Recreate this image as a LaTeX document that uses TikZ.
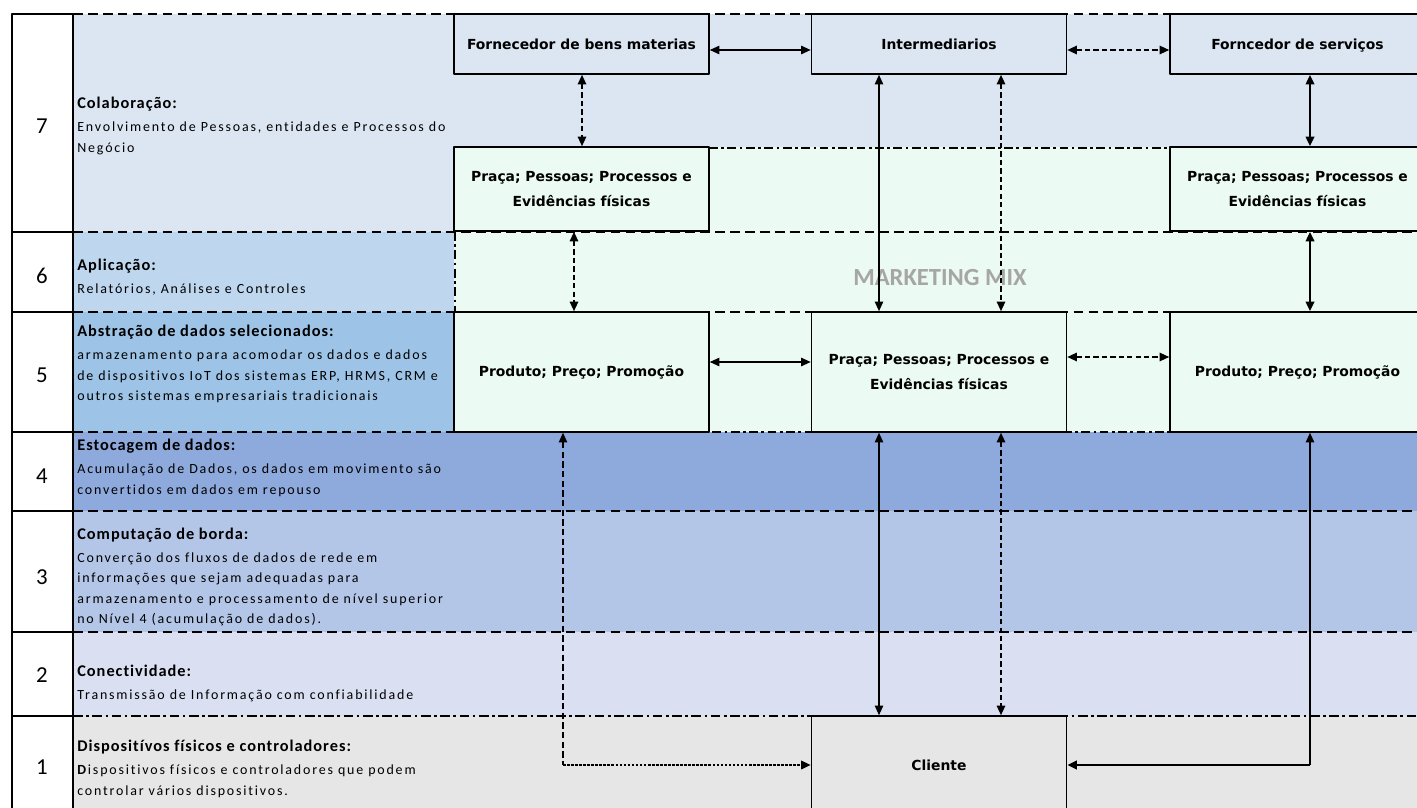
\documentclass[tikz,border=0pt]{standalone}
\usepackage{fontspec}
\setmainfont{Carlito}
\newfontfamily\headfont[LetterSpace=6,Ligatures=NoCommon]{Carlito}
\newfontfamily\bodyfont[LetterSpace=13,Ligatures=NoCommon]{Carlito}
\newfontfamily\boxfont{DejaVu Sans}
\usetikzlibrary{arrows.meta}
\definecolor{lvSeven}{RGB}{220,230,242}
\definecolor{lvSix}{RGB}{190,215,238}
\definecolor{lvFive}{RGB}{157,195,230}
\definecolor{lvFour}{RGB}{142,169,219}
\definecolor{lvThree}{RGB}{180,198,231}
\definecolor{lvTwo}{RGB}{218,224,242}
\definecolor{lvOne}{RGB}{230,230,230}
\definecolor{mixmint}{RGB}{235,250,243}
\definecolor{mixgray}{RGB}{166,166,166}
\begin{document}
\begin{tikzpicture}[x=0.02cm, y=-0.02cm, line join=round, >={Triangle[length=5.5pt,width=4.8pt]},
		box/.style={draw, line width=0.9pt, minimum width=5.1cm, inner sep=2pt, align=center,
			font=\boxfont\fontsize{7.9}{14}\selectfont\bfseries},
		rowline/.style={line width=1.1pt, dash pattern=on 5.5pt off 3pt},
		rowdot/.style={line width=1.1pt, dash pattern=on 5.5pt off 2pt on 1.5pt off 2pt},
		mixedge/.style={line width=0.6pt, dash pattern=on 5pt off 2pt on 1.5pt off 2pt},
		link/.style={line width=0.8pt},
		boldlink/.style={line width=1.3pt},
		dashlink/.style={line width=1pt, dash pattern=on 3pt off 1.8pt},
		layertext/.style={anchor=west, inner sep=0pt, align=left,
			font=\bodyfont\fontsize{7.95}{11.6}\selectfont}]
	\clip (0,0) rectangle (1417,808);
	% layer bands
	\foreach \ya/\yb/\c in {14/232/lvSeven, 232/312/lvSix, 312/432/lvFive, 432/511/lvFour,
		511/632/lvThree, 632/716/lvTwo, 716/808/lvOne}
	{
		\fill[\c] (73,\ya) rectangle (1417,\yb);
	}
	% marketing mix area
	\fill[mixmint] (454,147) rectangle (1417,432);
	\node[text=mixgray, font=\fontsize{14}{14}\selectfont\bfseries] (mix) at (940,278) {MARKETING MIX};
	% layer borders
	\draw[line width=0.6pt, dash pattern=on 5.5pt off 3pt] (73,14) -- (1417,14);
	\foreach \y in {232,312,511,632}
	{
		\draw[rowline] (73,\y) -- (1417,\y);
	}
	\draw[rowline] (73,432) -- (454,432);
	\draw[mixedge] (454,432) -- (1417,432);
	\draw[rowdot] (73,716) -- (1417,716);
	\draw[mixedge] (709,148) -- (1170,148);
	\draw[mixedge] (455,232) -- (455,312);
	% number column
	\draw[line width=0.6pt] (12,808) -- (12,14) -- (73,14);
	\foreach \y in {232,312,432,511,632,716}
	{
		\draw[line width=0.6pt] (12,\y) -- (73,\y);
	}
	\draw[line width=1.5pt] (73,14) -- (73,808);
	% boxes
	\node[box, fill=lvSeven, minimum height=1.2cm, text depth=-3pt] (forn) at (581.5,44) {Fornecedor de bens materias};
	\node[box, fill=lvSeven, minimum height=1.2cm, text depth=-3pt] (inter) at (939,44) {Intermediarios};
	\node[box, fill=lvSeven, minimum height=1.2cm, text depth=-3pt] (fserv) at (1297.5,44) {Forncedor de serviços};
	\node[box, fill=mixmint, minimum height=1.68cm] (pracaL) at (581.5,189) {Praça; Pessoas; Processos e\\Evidências físicas};
	\node[box, fill=mixmint, minimum height=1.68cm] (pracaR) at (1297.5,189) {Praça; Pessoas; Processos e\\Evidências físicas};
	\node[box, fill=mixmint, minimum height=2.4cm] (prodL) at (581.5,372) {Produto; Preço; Promoção};
	\node[box, fill=mixmint, minimum height=2.4cm] (pracaM) at (939,372) {Praça; Pessoas; Processos e\\Evidências físicas};
	\node[box, fill=mixmint, minimum height=2.4cm] (prodR) at (1297.5,372) {Produto; Preço; Promoção};
	\node[box, fill=lvOne, minimum height=1.96cm] (cliente) at (939,765) {Cliente};
	% columns and rows of the links
	\coordinate (cA) at (582,0);
	\coordinate (cB) at (574,0);
	\coordinate (cC) at (563,0);
	\coordinate (cD) at (879,0);
	\coordinate (cE) at (1001,0);
	\coordinate (cF) at (1310,0);
	\coordinate (rA) at (0,50);
	\coordinate (rB) at (0,362);
	\coordinate (rC) at (0,357);
	% links
	\draw[<->, link] (forn.east |- rA) -- (inter.west |- rA);
	\draw[<->, dashlink] (inter.east |- rA) -- (fserv.west |- rA);
	\draw[<->, dashlink] (forn.south -| cA) -- (pracaL.north -| cA);
	\draw[<->, boldlink] (fserv.south -| cF) -- (pracaR.north -| cF);
	\draw[<->, dashlink] (pracaL.south -| cB) -- (prodL.north -| cB);
	\draw[<->, boldlink] (pracaR.south -| cF) -- (prodR.north -| cF);
	\draw[<->, link] (inter.south -| cD) -- (pracaM.north -| cD);
	\draw[<->, dashlink] (inter.south -| cE) -- (pracaM.north -| cE);
	\draw[<->, link] (prodL.east |- rB) -- (pracaM.west |- rB);
	\draw[<->, dashlink] (pracaM.east |- rC) -- (prodR.west |- rC);
	\draw[<->, link] (pracaM.south -| cD) -- (cliente.north -| cD);
	\draw[<->, dashlink] (pracaM.south -| cE) -- (cliente.north -| cE);
	\coordinate (kL) at (cC |- cliente.west);
	\coordinate (kR) at (cF |- cliente.east);
	\draw[<-, line width=0.7pt, dash pattern=on 3.5pt off 2pt] (prodL.south -| cC) -- (kL);
	\draw[->, line width=1.2pt, dash pattern=on 1.5pt off 0.8pt] (kL) -- (cliente.west);
	\draw[<-, link] (prodR.south -| cF) -- (kR);
	\draw[->, line width=1.6pt] (kR) -- (cliente.east);
	% layer labels
	\foreach \n/\ny/\ty/\h/\t in {
		7/126/126/Colaboração:/{Envolvimento de Pessoas, entidades e Processos do\\Negócio},
		6/276/277/Aplicação:/{Relatórios, Análises e Controles},
		5/375/364/Abstração de dados selecionados:/{armazenamento para acomodar os dados e dados\\de dispositivos IoT dos sistemas ERP, HRMS, CRM e\\outros sistemas empresariais tradicionais},
		4/476/468/Estocagem de dados:/{Acumulação de Dados, os dados em movimento são\\convertidos em dados em repouso},
		3/577/577/Computação de borda:/{Converção dos fluxos de dados de rede em\\informações que sejam adequadas para\\armazenamento e processamento de nível superior\\no Nível 4 (acumulação de dados).},
		2/675/683/Conectividade:/{Transmissão de Informação com confiabilidade},
		1/767/769/Dispositívos físicos e controladores:/{\textbf{D}ispositivos físicos e controladores que podem\\controlar vários dispositivos.}}
	{
		\node[font=\fontsize{13}{13}\selectfont] (num\n) at (42,\ny) {\n};
		\node[layertext] (lay\n) at (77,\ty) {{\headfont\fontsize{9.3}{11.6}\selectfont\bfseries \h}\\[1.5pt]\t};
	}
\end{tikzpicture}
\end{document}
